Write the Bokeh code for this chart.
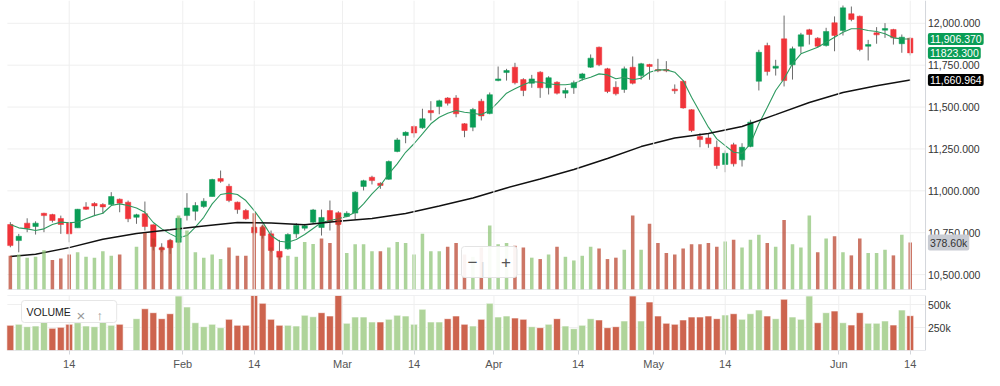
from bokeh.plotting import figure
from bokeh.layouts import column
from bokeh.models import Range1d, FixedTicker, Label, Span, ColumnDataSource
from bokeh.embed import file_html
from bokeh.resources import INLINE

# ---------------- data ----------------
opens = [10799,10703,10807,10787,10866,10858,10835,10811,10779,10904,
         10924,10918,10918,10950,10932,10842,10863,10797,10660,10703,
         10693,10852,10878,10906,10966,11073,11027,10932,10882,10783,
         10783,10743,10639,10654,10743,10777,10813,10781,10882,10869,
         10847,10867,11026,11081,11045,11069,11235,11330,11384,11376,
         11479,11503,11554,11554,11400,11380,11535,11461,11658,11706,
         11738,11664,11642,11708,11615,11648,11583,11615,11672,11738,
         11857,11728,11618,11605,11738,11688,11754,11724,11724,11607,
         11654,11484,11324,11316,11260,11157,11275,11185,11264,11654,
         11867,11732,11907,11752,11863,11961,11911,11867,12003,11957,
         12057,12042,11863,11943,11959,11963,11878,11911]
highs = [10813,10743,10836,10818,10869,10863,10852,10813,10892,10932,
         10932,10926,10992,10954,10942,10863,10936,10799,10687,10713,
         10840,10986,10932,10956,11072,11121,11042,10936,10892,10799,
         10799,10763,10707,10747,10807,10803,10892,10888,10942,10878,
         10878,10998,11066,11090,11051,11181,11316,11355,11390,11490,
         11535,11544,11559,11571,11404,11495,11549,11587,11742,11728,
         11764,11672,11692,11714,11684,11654,11615,11658,11704,11814,
         11861,11734,11654,11742,11802,11764,11758,11788,11774,11635,
         11658,11487,11344,11340,11300,11241,11287,11284,11424,11842,
         11884,11782,12046,11861,11943,11967,11917,11973,12041,12106,
         12100,12046,11901,11977,12001,11967,11933,11917]
lows = [10663,10633,10753,10739,10753,10811,10743,10693,10779,10886,
        10852,10863,10912,10872,10813,10803,10763,10644,10633,10624,
        10690,10823,10823,10898,10966,11048,10932,10863,10827,10739,
        10715,10633,10588,10648,10719,10763,10803,10733,10763,10793,
        10842,10829,11002,11038,11012,11066,11230,11284,11318,11370,
        11420,11457,11509,11439,11320,11356,11420,11457,11654,11658,
        11635,11565,11615,11555,11575,11575,11553,11579,11658,11734,
        11744,11583,11569,11585,11635,11663,11663,11708,11708,11579,
        11490,11350,11260,11257,11131,11111,11145,11145,11260,11599,
        11688,11688,11623,11664,11821,11873,11857,11861,11833,11927,
        12012,11833,11778,11878,11913,11873,11824,11808]
closes = [10673,10729,10777,10807,10852,10823,10799,10743,10890,10890,
          10910,10904,10966,10926,10833,10857,10787,10667,10648,10660,
          10836,10898,10912,10938,11067,11057,10942,10888,10833,10749,
          10733,10644,10604,10739,10793,10791,10886,10841,10817,10799,
          10866,10992,11060,11061,11032,11175,11304,11349,11345,11430,
          11466,11537,11523,11460,11360,11485,11447,11574,11668,11718,
          11645,11599,11668,11615,11675,11583,11599,11645,11698,11792,
          11752,11593,11579,11728,11642,11758,11742,11716,11716,11597,
          11495,11360,11306,11281,11151,11224,11161,11260,11410,11827,
          11712,11744,11658,11848,11931,11933,11863,11951,11927,12092,
          12023,11844,11873,11931,11969,11913,11917,11823.3]
volume_k = [274,285,259,266,317,241,252,285,302,266,
            259,310,274,285,0,346,454,411,346,400,
            592,473,302,259,285,248,339,274,274,610,
            513,339,274,274,266,383,367,411,375,600,
            296,364,364,310,310,339,383,375,285,448,
            310,310,346,375,285,266,339,513,364,375,
            353,339,259,248,285,346,266,237,274,346,
            332,248,259,321,592,321,527,375,296,285,
            332,364,364,375,346,386,400,339,400,440,
            375,346,557,364,339,592,302,411,429,302,
            277,411,296,296,321,277,440,378.6]
volume_up = [0,1,1,1,1,0,0,0,1,1,
             1,1,1,0,0,1,0,0,0,0,
             1,1,1,1,1,1,0,0,0,0,
             0,0,0,1,1,1,1,0,0,0,
             1,1,1,1,0,1,1,1,1,1,
             1,1,0,0,0,1,0,1,1,1,
             0,0,1,0,1,0,1,1,1,1,
             0,0,0,1,0,1,0,0,0,0,
             0,0,0,0,0,1,0,1,1,1,
             0,1,0,1,1,1,0,1,0,1,
             0,0,1,1,1,0,1,0]
ma_short = [10799,10779,10773,10763,10773,10799,10813,10809,10813,10833,
            10852,10866,10912,10922,10912,10898,10872,10811,10773,10743,
            10719,10733,10783,10842,10922,10978,10986,10978,10942,10882,
            10813,10733,10699,10693,10709,10739,10775,10811,10823,10833,
            10847,10872,10922,10982,11032,11101,11161,11230,11281,11340,
            11400,11439,11463,11479,11469,11463,11455,11479,11529,11583,
            11609,11633,11652,11648,11639,11633,11633,11639,11663,11678,
            11698,11692,11669,11678,11663,11672,11708,11722,11722,11708,
            11658,11559,11469,11380,11310,11270,11230,11224,11281,11400,
            11497,11599,11669,11758,11818,11838,11857,11887,11917,11947,
            11967,11967,11957,11951,11937,11913,11907,11906.37]
ma_long_idx = [0,3,7,11,15,19,23,27,31,35,39,43,47,51,55,59,63,67,71,75,79,83,87,91,95,99,103,107]
ma_long = [10608,10622,10661,10711,10745,10767,10790,10811,10808,10797,10818,10835,10864,
           10909,10957,11017,11071,11127,11193,11264,11315,11342,11384,11455,11527,11587,
           11627,11660.964]
tick_pos = [7, 20.5, 29, 39.5, 48, 57.5, 67.5, 76.5, 85, 98.5, 107]
tick_labels = ["14", "Feb", "14", "Mar", "14", "Apr", "14", "May", "14", "Jun", "14"]
price_ticks = [10500, 10750, 11000, 11250, 11500, 11750, 12000]
vol_ticks = [250, 500]
vol_tick_labels = ["250k", "500k"]

# ---------------- styling / layout ----------------
FONT = "Liberation Sans"
GREEN = "#0a9d56"
RED = "#f0343a"
WICK = "#6b6b6b"
VOL_G_MAIN = "#8cc474"
VOL_R_MAIN = "#b8412b"
VOL_G = "#afd49a"
VOL_R = "#cd644e"
GRID = "#efefef"
AXIS = "#d3d6db"
NB = "\u00a0"
W = 984
X0, X1 = -1.17, 115.83          # index range across the full width
AX = 108.82                      # index position of the right axis line
LX = 109.1                       # index position where right labels start
GL = -0.35                       # left end of horizontal grid lines

n = len(opens)
idx = list(range(n))
is_up = [c >= o for o, c in zip(opens, closes)]
src = ColumnDataSource(dict(
    x=idx, o=opens, h=highs, l=lows, c=closes,
    top=[max(o, c) for o, c in zip(opens, closes)],
    bot=[min(o, c) for o, c in zip(opens, closes)],
    col=[GREEN if u else RED for u in is_up],
    vol=volume_k,
    vcm=[VOL_G_MAIN if u else VOL_R_MAIN for u in volume_up],
    vc=[VOL_G if u else VOL_R for u in volume_up],
))

x_range = Range1d(X0, X1)

p1 = figure(frame_width=W, frame_height=290, x_range=x_range,
            y_range=Range1d(10405, 12136), x_axis_location=None, y_axis_location=None,
            output_backend="svg", toolbar_location=None,
            min_border_left=0, min_border_right=0, min_border_top=0, min_border_bottom=0,
            outline_line_color=None)
p1.extra_y_ranges = {"vol": Range1d(0, 2288)}
p1.grid.visible = False

for t in tick_pos:
    p1.add_layout(Span(location=t, dimension="height", line_color=GRID, line_width=1))
p1.segment(x0=[GL] * len(price_ticks), y0=price_ticks, x1=[AX] * len(price_ticks), y1=price_ticks,
           line_color=GRID, line_width=1)
p1.add_layout(Span(location=AX, dimension="height", line_color=AXIS, line_width=1))
for t in price_ticks:
    p1.add_layout(Label(x=LX, y=t, text=f"{t:,.3f}", text_font=FONT, text_font_size="10.5px",
                        text_color="#333333", text_align="left", text_baseline="middle"))

# candles
p1.segment(x0="x", y0="h", x1="x", y1="l", source=src, line_color=WICK, line_width=1)
p1.vbar(x="x", top="top", bottom="bot", width=0.64, source=src,
        fill_color="col", line_color="col", line_width=0.5)
# moving averages
p1.line(idx, ma_short, line_color="#2e9a60", line_width=1.1)
p1.line(ma_long_idx, ma_long, line_color="#111111", line_width=1.5)
# volume overlay
p1.vbar(x="x", top="vol", bottom=0, width=0.42, source=src, y_range_name="vol",
        fill_color="vcm", line_color=None, fill_alpha=0.72)
# bottom border of the price pane
p1.segment(x0=[GL], y0=[10407], x1=[AX], y1=[10407], line_color="#dfe2e6", line_width=2)

def box_label(p, y, text, bg, fg, **kw):
    p.add_layout(Label(x=LX, y=y, text=text,
                       text_font=FONT, text_font_size="10.5px", text_color=fg,
                       text_align="left", text_baseline="middle",
                       background_fill_color=bg, padding=2, border_radius=2, **kw))

box_label(p1, ma_short[-1], "11,906.370", GREEN, "white")
box_label(p1, closes[-1], "11823.300", GREEN, "white")
box_label(p1, ma_long[-1], "11,660.964", "#000000", "white")
box_label(p1, volume_k[-1], "378.60k", "#c9ccd3", "#333333", y_range_name="vol")

# zoom control
p1.add_layout(Label(x=461, y=13, x_units="screen", y_units="screen",
                    text="\u2212" + NB * 5 + "+",
                    text_font=FONT, text_font_size="17px", text_color="#555555",
                    text_align="left", text_baseline="bottom",
                    background_fill_color="white", background_fill_alpha=0.92,
                    border_line_color="#e4e4e4", padding=6, border_radius=3))
p1.add_layout(Label(x=480, y=13, x_units="screen", y_units="screen", text="|",
                    text_font=FONT, text_font_size="17px", text_color="#dddddd",
                    text_align="left", text_baseline="bottom"))

# ---------------- volume panel ----------------
p2 = figure(frame_width=W, frame_height=55, x_range=x_range, y_range=Range1d(0, 598),
            y_axis_location=None, output_backend="svg", toolbar_location=None,
            min_border_left=0, min_border_right=0, min_border_top=5, min_border_bottom=0,
            outline_line_color=None)
p2.grid.visible = False
for t in tick_pos:
    p2.add_layout(Span(location=t, dimension="height", line_color=GRID, line_width=1))
p2.segment(x0=[GL] * 2, y0=vol_ticks, x1=[AX] * 2, y1=vol_ticks, line_color=GRID, line_width=1)
p2.vbar(x="x", top="vol", bottom=0, width=0.82, source=src,
        fill_color="vc", line_color="white", line_width=0.6)
p2.segment(x0=[GL], y0=[598], x1=[AX], y1=[598], line_color="#dfe2e6", line_width=1)
p2.segment(x0=[GL], y0=[0], x1=[AX], y1=[0], line_color=AXIS, line_width=1)
p2.add_layout(Span(location=AX, dimension="height", line_color=AXIS, line_width=1))
for t, s in zip(vol_ticks, vol_tick_labels):
    p2.add_layout(Label(x=LX, y=t, text=s, text_font=FONT, text_font_size="10.5px",
                        text_color="#333333", text_align="left", text_baseline="middle"))

p2.xaxis.ticker = FixedTicker(ticks=tick_pos)
p2.xaxis.major_label_overrides = {t: s for t, s in zip(tick_pos, tick_labels)}
p2.xaxis.axis_line_color = None
p2.xaxis.major_tick_line_color = AXIS
p2.xaxis.major_tick_in = 0
p2.xaxis.major_tick_out = 4
p2.xaxis.minor_tick_line_color = None
p2.xaxis.major_label_text_font = FONT
p2.xaxis.major_label_text_font_size = "11px"
p2.xaxis.major_label_text_color = "#555555"
p2.xaxis.major_label_standoff = 3

p2.add_layout(Label(x=21, y=28, x_units="screen", y_units="screen",
                    text="VOLUME" + NB * 14,
                    text_font=FONT, text_font_size="10.5px", text_color="#222222",
                    text_align="left", text_baseline="bottom",
                    background_fill_color="white", background_fill_alpha=0.95,
                    border_line_color="#e6e6e6", padding=5, border_radius=3))
p2.add_layout(Label(x=76, y=27, x_units="screen", y_units="screen", text="\u00d7",
                    text_font=FONT, text_font_size="15px", text_color="#999999",
                    text_align="left", text_baseline="bottom"))
p2.add_layout(Label(x=96, y=28, x_units="screen", y_units="screen", text="\u2191",
                    text_font=FONT, text_font_size="13px", text_color="#999999",
                    text_align="left", text_baseline="bottom"))

layout = column(p1, p2, spacing=0)
open("out.html", "w").write(file_html(layout, INLINE))
